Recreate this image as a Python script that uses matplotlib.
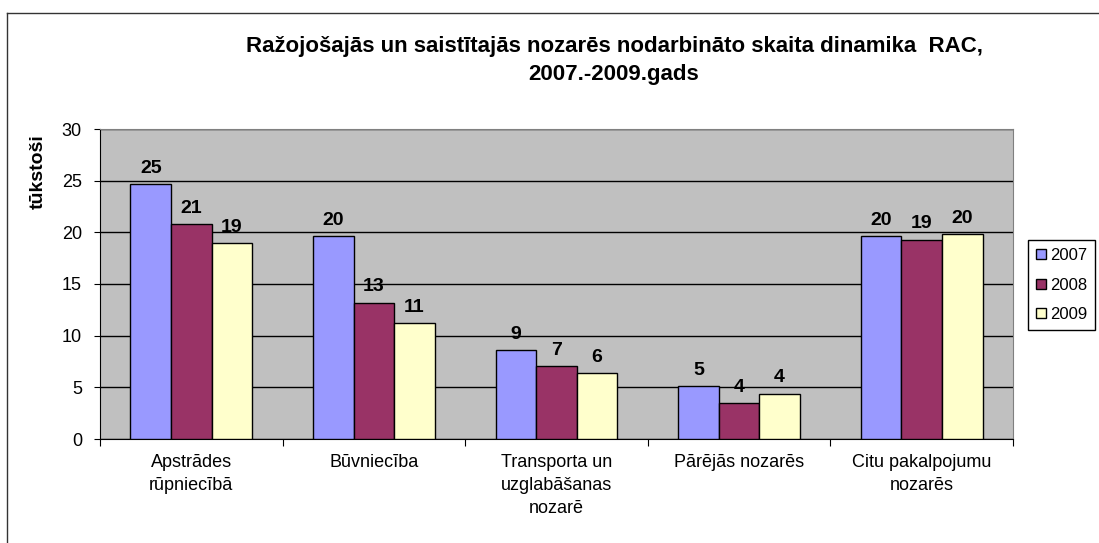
import matplotlib
matplotlib.use("Agg")
import matplotlib.pyplot as plt
import matplotlib.patches as mpatches
import matplotlib.lines as mlines
import numpy as np

plt.rcParams['font.family'] = ['Liberation Sans', 'DejaVu Sans']

# data
categories = ["Apstrādes\nrūpniecībā", "Būvniecība", "Transporta un\nuzglabāšanas\nnozarē",
              "Pārējās nozarēs", "Citu pakalpojumu\nnozarēs"]
years = ["2007", "2008", "2009"]
v2007 = [24.7, 19.6, 8.6, 5.1, 19.6]
v2008 = [20.8, 13.2, 7.1, 3.5, 19.3]
v2009 = [19.0, 11.2, 6.4, 4.4, 19.8]
bar_labels = [[25, 20, 9, 5, 20], [21, 13, 7, 4, 19], [19, 11, 6, 4, 20]]
colors = ["#9999FF", "#993366", "#FFFFCC"]

W, H = 1099, 543
fig = plt.figure(figsize=(W / 100, H / 100), dpi=100)
ax = fig.add_axes([100 / W, 1 - 439 / H, 913 / W, 310 / H])
ax.set_facecolor("#C0C0C0")

x = np.arange(len(categories))
bw = 0.222
series = [v2007, v2008, v2009]
for i, vals in enumerate(series):
    pos = x + (i - 1) * bw
    bars = ax.bar(pos, vals, width=bw, color=colors[i], edgecolor="black", linewidth=1, zorder=3)
    for b, lab in zip(bars, bar_labels[i]):
        ax.annotate(str(lab), (b.get_x() + b.get_width() / 2, b.get_height()),
                    xytext=(0, 8), textcoords="offset points", ha="center", va="baseline",
                    fontsize=14, fontweight="bold", zorder=4)

ax.set_xlim(-0.5, len(categories) - 0.5)
ax.set_ylim(0, 30)
ax.set_yticks(np.arange(0, 31, 5))
ax.yaxis.grid(True, color="black", linewidth=1, zorder=1)
ax.tick_params(axis="y", labelsize=13, length=4, pad=9, direction="out")

ax.set_xticks(np.arange(-0.5, len(categories), 1.0))
ax.set_xticklabels([])
ax.set_xticks(x, minor=True)
ax.set_xticklabels(categories, minor=True, fontsize=13, linespacing=1.45)
ax.tick_params(axis="x", which="major", length=5, direction="out")
ax.tick_params(axis="x", which="minor", length=0, pad=11)

for s in ["top", "right"]:
    ax.spines[s].set_color("#808080")
for s in ["left", "bottom"]:
    ax.spines[s].set_color("black")

fig.text(614 / W, 1 - 52 / H, "Ražojošajās un saistītajās nozarēs nodarbināto skaita dinamika  RAC,",
         ha="center", va="baseline", fontsize=16, fontweight="bold")
fig.text(614 / W, 1 - 80 / H, "2007.-2009.gads",
         ha="center", va="baseline", fontsize=16, fontweight="bold")
fig.text(38 / W, 1 - 172 / H, "tūkstoši", rotation=90, ha="center", va="center",
         fontsize=14, fontweight="bold")

handles = [mpatches.Patch(facecolor=c, edgecolor="black", linewidth=1) for c in colors]
leg = fig.legend(handles, years, loc="upper left", bbox_to_anchor=(1028 / W, 1 - 240 / H),
                 fontsize=12, handlelength=0.55, handleheight=0.55, handletextpad=0.25,
                 labelspacing=0.85, borderpad=0.5, fancybox=False, framealpha=1,
                 edgecolor="black", borderaxespad=0)
leg.get_frame().set_linewidth(1)

# outer chart border (only top and left visible in the reference)
fig.add_artist(mlines.Line2D([7 / W, 7 / W], [0, 1 - 13 / H], color="#333333", linewidth=1))
fig.add_artist(mlines.Line2D([7 / W, 1], [1 - 13 / H, 1 - 13 / H], color="#333333", linewidth=1))

fig.savefig("out.png", dpi=100)
